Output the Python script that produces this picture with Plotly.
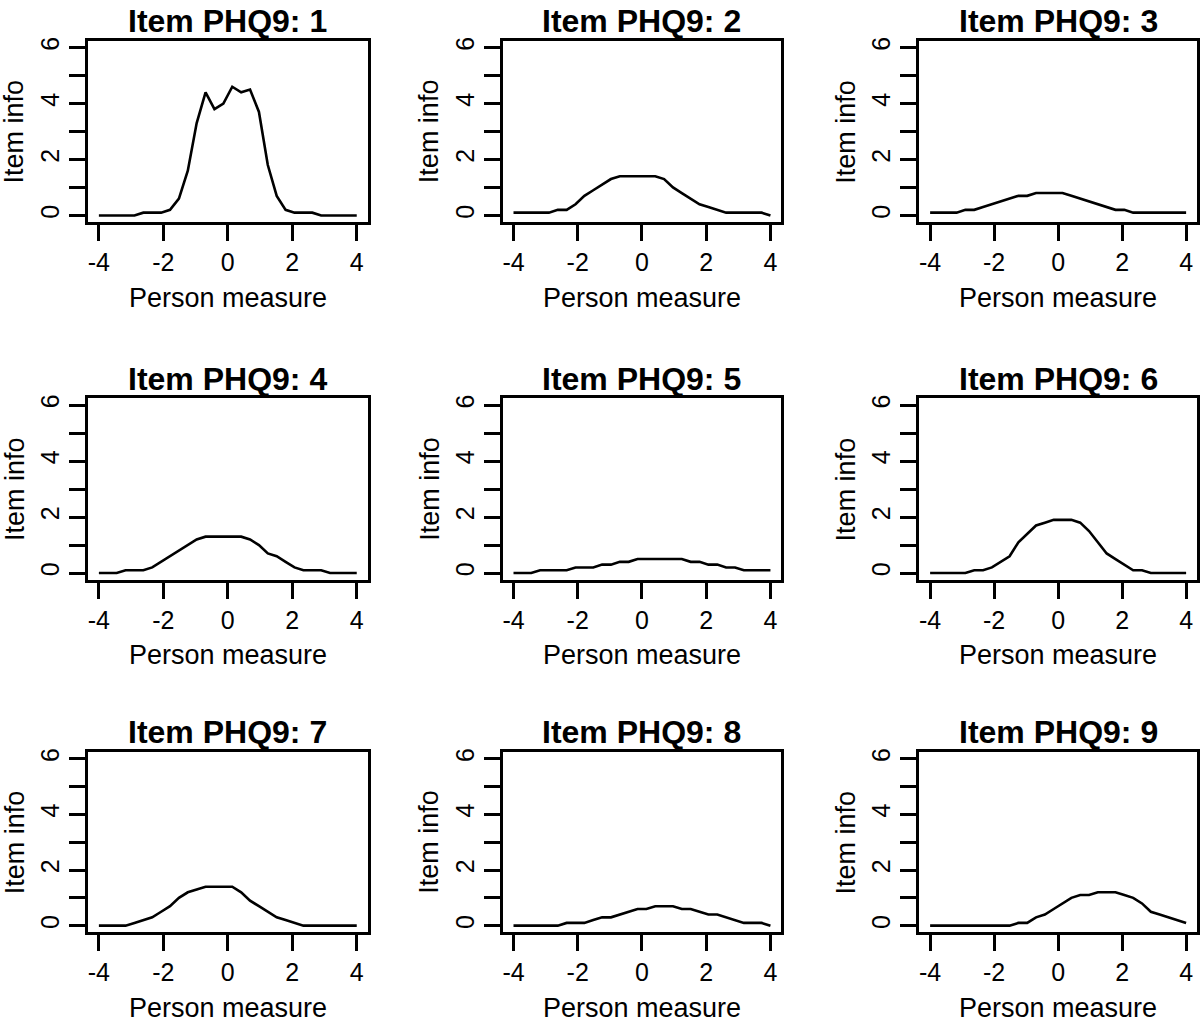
import plotly.graph_objects as go

# Person measure grid (30 points from -4 to 4)
person_measure = [-4.0, -3.724, -3.448, -3.172, -2.897, -2.621, -2.345, -2.069, -1.793, -1.517,
                  -1.241, -0.966, -0.690, -0.414, -0.138, 0.138, 0.414, 0.690, 0.966, 1.241,
                  1.517, 1.793, 2.069, 2.345, 2.621, 2.897, 3.172, 3.448, 3.724, 4.0]

item_titles = ["Item PHQ9: 1", "Item PHQ9: 2", "Item PHQ9: 3",
               "Item PHQ9: 4", "Item PHQ9: 5", "Item PHQ9: 6",
               "Item PHQ9: 7", "Item PHQ9: 8", "Item PHQ9: 9"]

info_1 = [0, 0, 0, 0, 0, 0.1, 0.1, 0.1, 0.2, 0.6, 1.6, 3.3, 4.4, 3.8, 4.0, 4.6, 4.4, 4.5, 3.7, 1.8,
          0.7, 0.2, 0.1, 0.1, 0.1, 0, 0, 0, 0, 0]
info_2 = [0.1, 0.1, 0.1, 0.1, 0.1, 0.2, 0.2, 0.4, 0.7, 0.9, 1.1, 1.3, 1.4, 1.4, 1.4, 1.4, 1.4, 1.3, 1.0, 0.8,
          0.6, 0.4, 0.3, 0.2, 0.1, 0.1, 0.1, 0.1, 0.1, 0]
info_3 = [0.1, 0.1, 0.1, 0.1, 0.2, 0.2, 0.3, 0.4, 0.5, 0.6, 0.7, 0.7, 0.8, 0.8, 0.8, 0.8, 0.7, 0.6, 0.5, 0.4,
          0.3, 0.2, 0.2, 0.1, 0.1, 0.1, 0.1, 0.1, 0.1, 0.1]
info_4 = [0, 0, 0, 0.1, 0.1, 0.1, 0.2, 0.4, 0.6, 0.8, 1.0, 1.2, 1.3, 1.3, 1.3, 1.3, 1.3, 1.2, 1.0, 0.7,
          0.6, 0.4, 0.2, 0.1, 0.1, 0.1, 0, 0, 0, 0]
info_5 = [0, 0, 0, 0.1, 0.1, 0.1, 0.1, 0.2, 0.2, 0.2, 0.3, 0.3, 0.4, 0.4, 0.5, 0.5, 0.5, 0.5, 0.5, 0.5,
          0.4, 0.4, 0.3, 0.3, 0.2, 0.2, 0.1, 0.1, 0.1, 0.1]
info_6 = [0, 0, 0, 0, 0, 0.1, 0.1, 0.2, 0.4, 0.6, 1.1, 1.4, 1.7, 1.8, 1.9, 1.9, 1.9, 1.8, 1.5, 1.1,
          0.7, 0.5, 0.3, 0.1, 0.1, 0, 0, 0, 0, 0]
info_7 = [0, 0, 0, 0, 0.1, 0.2, 0.3, 0.5, 0.7, 1.0, 1.2, 1.3, 1.4, 1.4, 1.4, 1.4, 1.2, 0.9, 0.7, 0.5,
          0.3, 0.2, 0.1, 0, 0, 0, 0, 0, 0, 0]
info_8 = [0, 0, 0, 0, 0, 0, 0.1, 0.1, 0.1, 0.2, 0.3, 0.3, 0.4, 0.5, 0.6, 0.6, 0.7, 0.7, 0.7, 0.6,
          0.6, 0.5, 0.4, 0.4, 0.3, 0.2, 0.1, 0.1, 0.1, 0]
info_9 = [0, 0, 0, 0, 0, 0, 0, 0, 0, 0, 0.1, 0.1, 0.3, 0.4, 0.6, 0.8, 1.0, 1.1, 1.1, 1.2,
          1.2, 1.2, 1.1, 1.0, 0.8, 0.5, 0.4, 0.3, 0.2, 0.1]

item_info = [info_1, info_2, info_3, info_4, info_5, info_6, info_7, info_8, info_9]

x_tick_vals = [-4, -2, 0, 2, 4]
x_tick_text = ["-4", "-2", "0", "2", "4"]
y_tick_vals = [0, 1, 2, 3, 4, 5, 6]
y_tick_text = ["0", "", "2", "", "4", "", "6"]

W, H = 1200, 1023
col_left = [88, 503, 920]
col_right = [368, 782, 1198]
row_top = [37, 396, 751]
row_bottom = [219, 578, 932]

FONT = "Liberation Sans, Arial, Helvetica, sans-serif"
LW = 2.6

fig = go.Figure()
annotations = []
for i in range(9):
    r, c = divmod(i, 3)
    n = "" if i == 0 else str(i + 1)
    fig.add_trace(go.Scatter(x=person_measure, y=item_info[i], mode="lines",
                             line=dict(color="black", width=LW),
                             xaxis="x" + n, yaxis="y" + n, showlegend=False,
                             hoverinfo="x+y"))
    xd = [col_left[c] / W, col_right[c] / W]
    yd = [1 - row_bottom[r] / H, 1 - row_top[r] / H]
    common = dict(showline=True, linecolor="black", linewidth=LW, mirror=True,
                  ticks="outside", ticklen=16, tickwidth=LW, tickcolor="black",
                  showgrid=False, zeroline=False,
                  tickfont=dict(family=FONT, size=25, color="black"))
    fig.update_layout(**{
        "xaxis" + n: dict(domain=xd, range=[-4.34, 4.34], tickvals=x_tick_vals,
                          ticktext=x_tick_text, anchor="y" + n,
                          ticklabelstandoff=0, **common),
        "yaxis" + n: dict(domain=yd, range=[-0.24, 6.24], tickvals=y_tick_vals,
                          ticktext=y_tick_text, anchor="x" + n, tickangle=-90,
                          ticklabelstandoff=0, **common),
    })
    cx = (col_left[c] + col_right[c]) / 2 / W
    annotations.append(dict(text="<b>" + item_titles[i] + "</b>", x=cx,
                            y=1 - (row_top[r] - 20) / H, xref="paper", yref="paper",
                            xanchor="center", yanchor="middle", showarrow=False,
                            font=dict(family=FONT, size=32, color="black")))
    annotations.append(dict(text="Person measure", x=cx,
                            y=1 - (row_bottom[r] + 76) / H, xref="paper", yref="paper",
                            xanchor="center", yanchor="middle", showarrow=False,
                            font=dict(family=FONT, size=27, color="black")))
    annotations.append(dict(text="Item info", x=(col_left[c] - 73) / W,
                            y=1 - (row_top[r] + row_bottom[r]) / 2 / H,
                            xref="paper", yref="paper", textangle=-90,
                            xanchor="center", yanchor="middle", showarrow=False,
                            font=dict(family=FONT, size=27, color="black")))

fig.update_layout(width=W, height=H, margin=dict(l=0, r=0, t=0, b=0),
                  paper_bgcolor="white", plot_bgcolor="white",
                  annotations=annotations, showlegend=False)

fig.write_html("out.html", config={"displayModeBar": False},
               post_script="document.body.style.margin='0';document.body.style.padding='0';"
                           "document.body.style.overflow='hidden';")
